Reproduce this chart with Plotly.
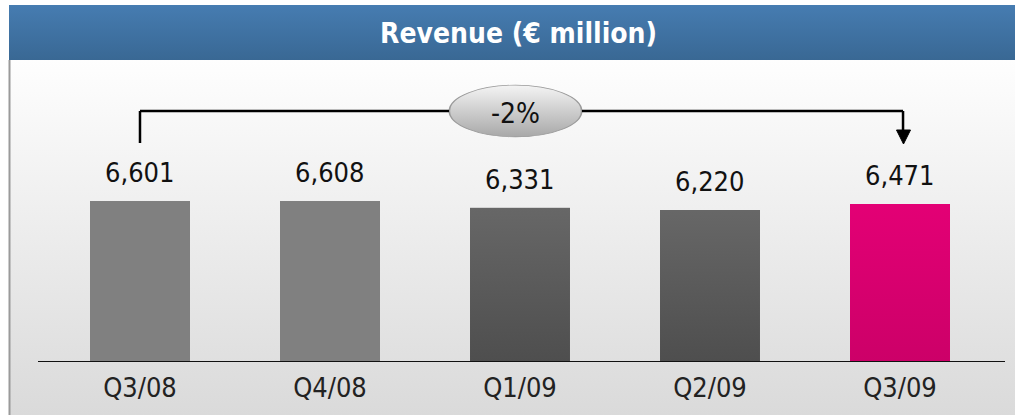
import base64
import plotly.graph_objects as go

categories = ["Q3/08", "Q4/08", "Q1/09", "Q2/09", "Q3/09"]
revenue = [6601, 6608, 6331, 6220, 6471]
value_labels = ["6,601", "6,608", "6,331", "6,220", "6,471"]
change_label = "-2%"
title_text = "Revenue (€ million)"
bar_top_colors = ["#808080", "#808080", "#676767", "#676767", "#e30075"]
bar_bottom_colors = ["#808080", "#808080", "#4e4e4e", "#4e4e4e", "#cc0068"]

W, H = 1015, 415
BASE_PX = 362          # pixel row of the baseline
Y_MAX = 14842          # axis range top (plot area is 362 px tall)
X_MIN, X_MAX = -0.7368, 4.6053
BAR_W = 0.526
FONT = "Liberation Sans Narrow, DejaVu Sans Condensed, Arial Narrow, sans-serif"


def px_x(p):
    return p / W


def px_y(p):
    return (BASE_PX - p) / BASE_PX


def grad_svg(top, bottom, shape="rect", stroke=None):
    if shape == "rect":
        body = '<rect width="100" height="100" fill="url(#g)"/>'
    else:
        body = ('<ellipse cx="50" cy="50" rx="49" ry="48" fill="url(#g)" '
                f'stroke="{stroke}" stroke-width="1.2" vector-effect="non-scaling-stroke"/>')
    svg = ('<svg xmlns="http://www.w3.org/2000/svg" width="100" height="100" '
           'viewBox="0 0 100 100" preserveAspectRatio="none"><defs>'
           '<linearGradient id="g" x1="0" y1="0" x2="0" y2="1">'
           f'<stop offset="0" stop-color="{top}"/><stop offset="1" stop-color="{bottom}"/>'
           f'</linearGradient></defs>{body}</svg>')
    return "data:image/svg+xml;base64," + base64.b64encode(svg.encode()).decode()


fig = go.Figure()
fig.add_trace(go.Bar(
    x=categories, y=revenue, width=BAR_W,
    marker=dict(color=bar_top_colors, line=dict(width=0)),
    hoverinfo="skip", showlegend=False,
))

images = [
    # body background
    dict(source=grad_svg("#fefefe", "#dadada"), xref="paper", yref="paper",
         x=px_x(9), y=px_y(60), sizex=px_x(W - 9), sizey=(H - 60) / BASE_PX,
         xanchor="left", yanchor="top", sizing="stretch", layer="below"),
    # header band
    dict(source=grad_svg("#467cb1", "#396894"), xref="paper", yref="paper",
         x=px_x(9), y=px_y(5), sizex=px_x(W - 9), sizey=55 / BASE_PX,
         xanchor="left", yanchor="top", sizing="stretch", layer="below"),
    # ellipse badge
    dict(source=grad_svg("#f4f4f4", "#a8a8a8", shape="ellipse", stroke="#9a9a9a"),
         xref="paper", yref="paper",
         x=px_x(448), y=px_y(84), sizex=px_x(135), sizey=54 / BASE_PX,
         xanchor="left", yanchor="top", sizing="stretch", layer="above"),
]
# bar gradients, placed from the data
for i, (c, v) in enumerate(zip(categories, revenue)):
    if bar_top_colors[i] != bar_bottom_colors[i]:
        images.append(dict(
            source=grad_svg(bar_top_colors[i], bar_bottom_colors[i]),
            xref="x", yref="y", x=i - BAR_W / 2, y=v, sizex=BAR_W, sizey=v,
            xanchor="left", yanchor="top", sizing="stretch", layer="above"))

shapes = [
    # left border of body
    dict(type="line", xref="paper", yref="paper", x0=px_x(9.5), x1=px_x(9.5),
         y0=px_y(60), y1=px_y(H), line=dict(color="#9a9a9a", width=2), layer="below"),
    # baseline
    dict(type="line", xref="paper", yref="y", x0=px_x(38), x1=px_x(1005), y0=0, y1=0,
         line=dict(color="#111111", width=2), layer="above"),
    # bracket
    dict(type="line", xref="x", yref="paper", x0=0, x1=0, y0=px_y(143), y1=px_y(111),
         line=dict(color="#000000", width=2.5)),
    dict(type="line", xref="x", yref="paper", x0=0, x1=(449 - 140) / 190, y0=px_y(111), y1=px_y(111),
         line=dict(color="#000000", width=2.5)),
    dict(type="line", xref="x", yref="paper", x0=(582 - 140) / 190, x1=4.016, y0=px_y(111), y1=px_y(111),
         line=dict(color="#000000", width=2.5)),
    dict(type="line", xref="x", yref="paper", x0=4.016, x1=4.016, y0=px_y(111), y1=px_y(131),
         line=dict(color="#000000", width=2.5)),
    dict(type="path", xref="paper", yref="paper",
         path=f"M {px_x(896.5)} {px_y(130)} L {px_x(910.5)} {px_y(130)} L {px_x(903.5)} {px_y(144)} Z",
         fillcolor="#000000", line=dict(color="#000000", width=1)),
]

annotations = [
    dict(text=title_text, xref="paper", yref="paper", x=px_x(518), y=px_y(34),
         showarrow=False, font=dict(family=FONT, size=28, color="white", weight="bold"),
         xanchor="center", yanchor="middle"),
    dict(text=change_label, xref="paper", yref="paper", x=px_x(515), y=px_y(113),
         showarrow=False, font=dict(family=FONT, size=28, color="#111111"),
         xanchor="center", yanchor="middle"),
]
for c, v, t in zip(categories, revenue, value_labels):
    annotations.append(dict(text=t, x=c, y=v, xref="x", yref="y", yanchor="bottom",
                            yshift=11, showarrow=False,
                            font=dict(family=FONT, size=27, color="#111111")))

fig.update_layout(
    width=W, height=H,
    margin=dict(l=0, r=0, t=0, b=H - BASE_PX, pad=0),
    paper_bgcolor="white", plot_bgcolor="rgba(0,0,0,0)",
    images=images, shapes=shapes, annotations=annotations,
    bargap=0,
    xaxis=dict(range=[X_MIN, X_MAX], showgrid=False, zeroline=False, showline=False,
               ticks="outside", ticklen=0, tickcolor="rgba(0,0,0,0)",
               tickfont=dict(family=FONT, size=27, color="#222222"),
               ticklabelstandoff=2, fixedrange=True),
    yaxis=dict(range=[0, Y_MAX], visible=False, fixedrange=True),
)

fig.write_html(
    "out.html",
    config={"displayModeBar": False},
    post_script="document.body.style.margin='0';document.body.style.padding='0';",
)
